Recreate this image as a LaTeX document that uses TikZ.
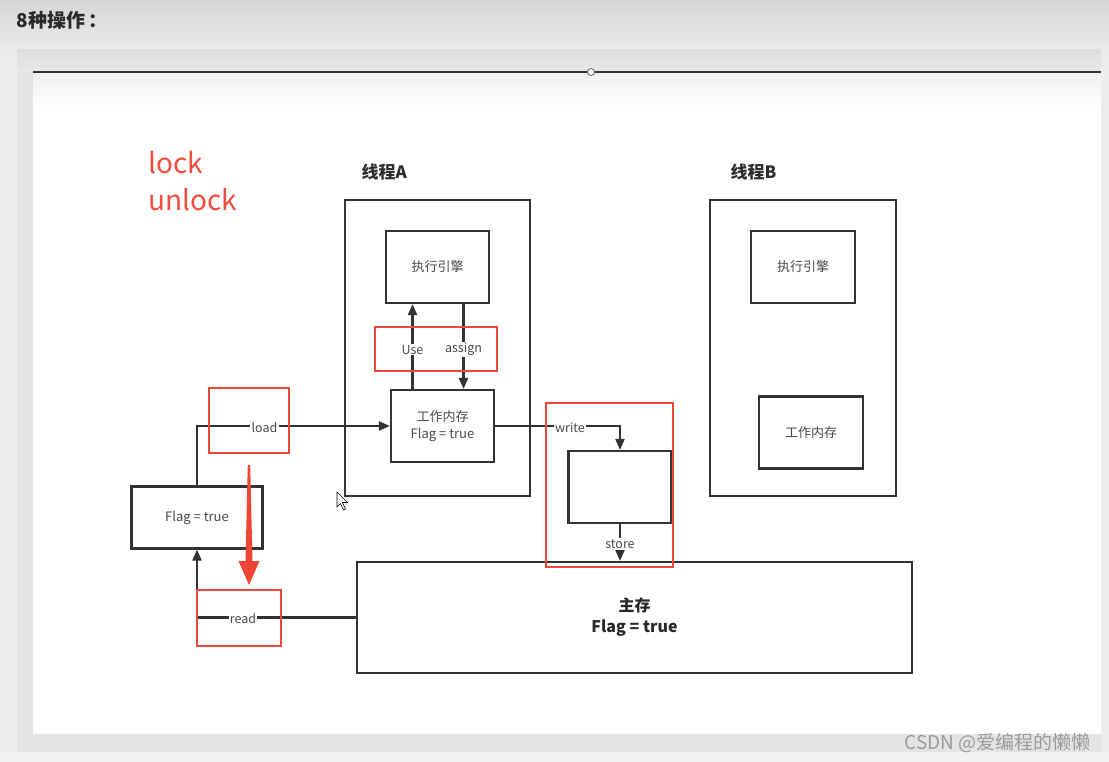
\documentclass[tikz,border=0pt]{standalone}
\usepackage{fontspec}
\setmainfont{Noto Sans CJK SC}
\usetikzlibrary{arrows.meta}
\definecolor{redbox}{HTML}{F0473A}
\definecolor{lockred}{HTML}{F24C3D}
\definecolor{lnc}{HTML}{333333}
\definecolor{lblc}{HTML}{4A4A4A}
\definecolor{wmc}{HTML}{9A9A9A}
\tikzset{
  box/.style={draw=lnc, line width=2.1pt, fill=white, inner sep=0pt},
  rbox/.style={draw=redbox, line width=2.9pt},
  arr/.style={draw=lnc, line width=2.1pt, -{Triangle[length=11pt,width=9pt]}},
  lbl/.style={fill=white, inner sep=1.2pt, text=lblc, font=\fontsize{12.5}{14}\selectfont},
  boxtxt/.style={text=lblc, font=\fontsize{13}{17}\selectfont, align=center},
}
\begin{document}
\begin{tikzpicture}[x=1pt,y=-1pt]
\useasboundingbox (0,0) rectangle (1109,762);
% background
\fill[color={rgb,255:red,236;green,236;blue,236}] (0,0) rectangle (1109,762);
\shade[top color={rgb,255:red,214;green,214;blue,214}, bottom color={rgb,255:red,234;green,234;blue,234}] (0,0) rectangle (1109,50);
\fill[color={rgb,255:red,228;green,228;blue,228}] (17,50) rectangle (1101,752);
\shade[top color={rgb,255:red,222;green,222;blue,222}, bottom color={rgb,255:red,232;green,232;blue,232}] (17,50) rectangle (1101,72);
\fill[white] (33,72) rectangle (1101,734);
\shade[top color={rgb,255:red,240;green,240;blue,240}, bottom color=white] (33,72) rectangle (1101,110);
\fill[color={rgb,255:red,242;green,242;blue,242}] (0,752) rectangle (1109,762);
\node[anchor=west, font=\fontsize{19}{21}\selectfont\bfseries, text={rgb,255:red,40;green,40;blue,40}] (title) at (13,20) {8种操作\hspace{3pt}：};
% top rule with handle
\coordinate (rl) at (33,72);
\coordinate (rr) at (1101,72);
\draw[color={rgb,255:red,60;green,45;blue,45}, line width=1.4pt] (rl) -- (rr);
\node[circle, draw={rgb,255:red,110;green,95;blue,95}, fill=white, line width=0.8pt, minimum size=7pt, inner sep=0pt] (handle) at (591,72) {};
% lock / unlock
\node[anchor=west, text=lockred, font=\fontsize{28}{30}\selectfont] (lock) at (145,163) {lock};
\node[anchor=west, text=lockred, font=\fontsize{28}{30}\selectfont] (unlock) at (145,200) {unlock};
% thread titles
\node[anchor=west, font=\fontsize{17}{19}\selectfont\bfseries, text={rgb,255:red,45;green,45;blue,45}] (tA) at (358,172) {线程A};
\node[anchor=west, font=\fontsize{17}{19}\selectfont\bfseries, text={rgb,255:red,45;green,45;blue,45}] (tB) at (727,172) {线程B};
% thread A
\node[box, minimum width=185pt, minimum height=296pt] (ThA) at (437.5,348) {};
\node[box, minimum width=103pt, minimum height=72pt, boxtxt] (ExecA) at (437.5,267) {执行引擎};
\node[box, minimum width=103pt, minimum height=72pt, boxtxt] (WorkA) at (442.5,426) {工作内存\\[0pt]Flag = true};
% thread B
\node[box, minimum width=186pt, minimum height=296pt] (ThB) at (803,348) {};
\node[box, minimum width=104pt, minimum height=72pt, boxtxt] (ExecB) at (803,267) {执行引擎};
\node[box, minimum width=104pt, minimum height=72pt, boxtxt] (WorkB) at (811,432.5) {工作内存};
% left flag box
\node[box, minimum width=131pt, minimum height=62pt, boxtxt] (Flag) at (197,517.5) {Flag = true};
% empty box
\node[box, minimum width=103pt, minimum height=72pt] (Empty) at (620,487) {};
% main memory
\node[box, minimum width=555pt, minimum height=111pt, align=center, font=\fontsize{16}{21}\selectfont\bfseries, text={rgb,255:red,40;green,40;blue,40}] (Main) at (634.5,617.5) {主存\\[0pt]Flag = true};
% use / assign
\draw[arr] ([xshift=-30pt]WorkA.north) -- node[lbl, yshift=-3pt]{Use} ([xshift=-30pt]WorkA.north |- ExecA.south);
\draw[arr] ([xshift=26pt]ExecA.south) -- node[lbl, yshift=-3pt]{assign} ([xshift=26pt]ExecA.south |- WorkA.north);
% load
\draw[arr] (Flag.north) |- node[lbl, pos=0.675, yshift=-1.5pt]{load} (WorkA.west);
% read
\draw[arr] (Main.west) -| node[lbl, pos=0.355, yshift=-1.5pt]{read} (Flag.south);
% write
\draw[arr] (WorkA.east) -| node[lbl, pos=0.3, yshift=-1.5pt]{write} (Empty.north);
% store
\draw[arr] (Empty.south) -- node[lbl, pos=0.5, yshift=-1.5pt]{store} (Empty.south |- Main.north);
% red highlight boxes
\draw[rbox] (375,327) rectangle (497,371);
\draw[rbox] (209,388) rectangle (289,453);
\draw[rbox] (197,590) rectangle (281,646);
\draw[rbox] (546,403) rectangle (673,567);
% big red arrow
\fill[color={rgb,255:red,240;green,70;blue,55}] (247.8,465) -- (250.2,465) -- (252.5,561) -- (259.5,561) -- (249,585) -- (238.5,561) -- (245.5,561) -- cycle;
% mouse cursor
\draw[fill=white, draw=black, line width=0.6pt] (337,492) -- (337,507) -- (340.5,503.5) -- (343.5,510) -- (345.5,509) -- (342.5,502.5) -- (347.5,502.5) -- cycle;
% watermark
\node[anchor=east, text=wmc, font=\fontsize{19}{21}\selectfont] (wm) at (1094,743) {CSDN @爱编程的懒懒};
\end{tikzpicture}
\end{document}
